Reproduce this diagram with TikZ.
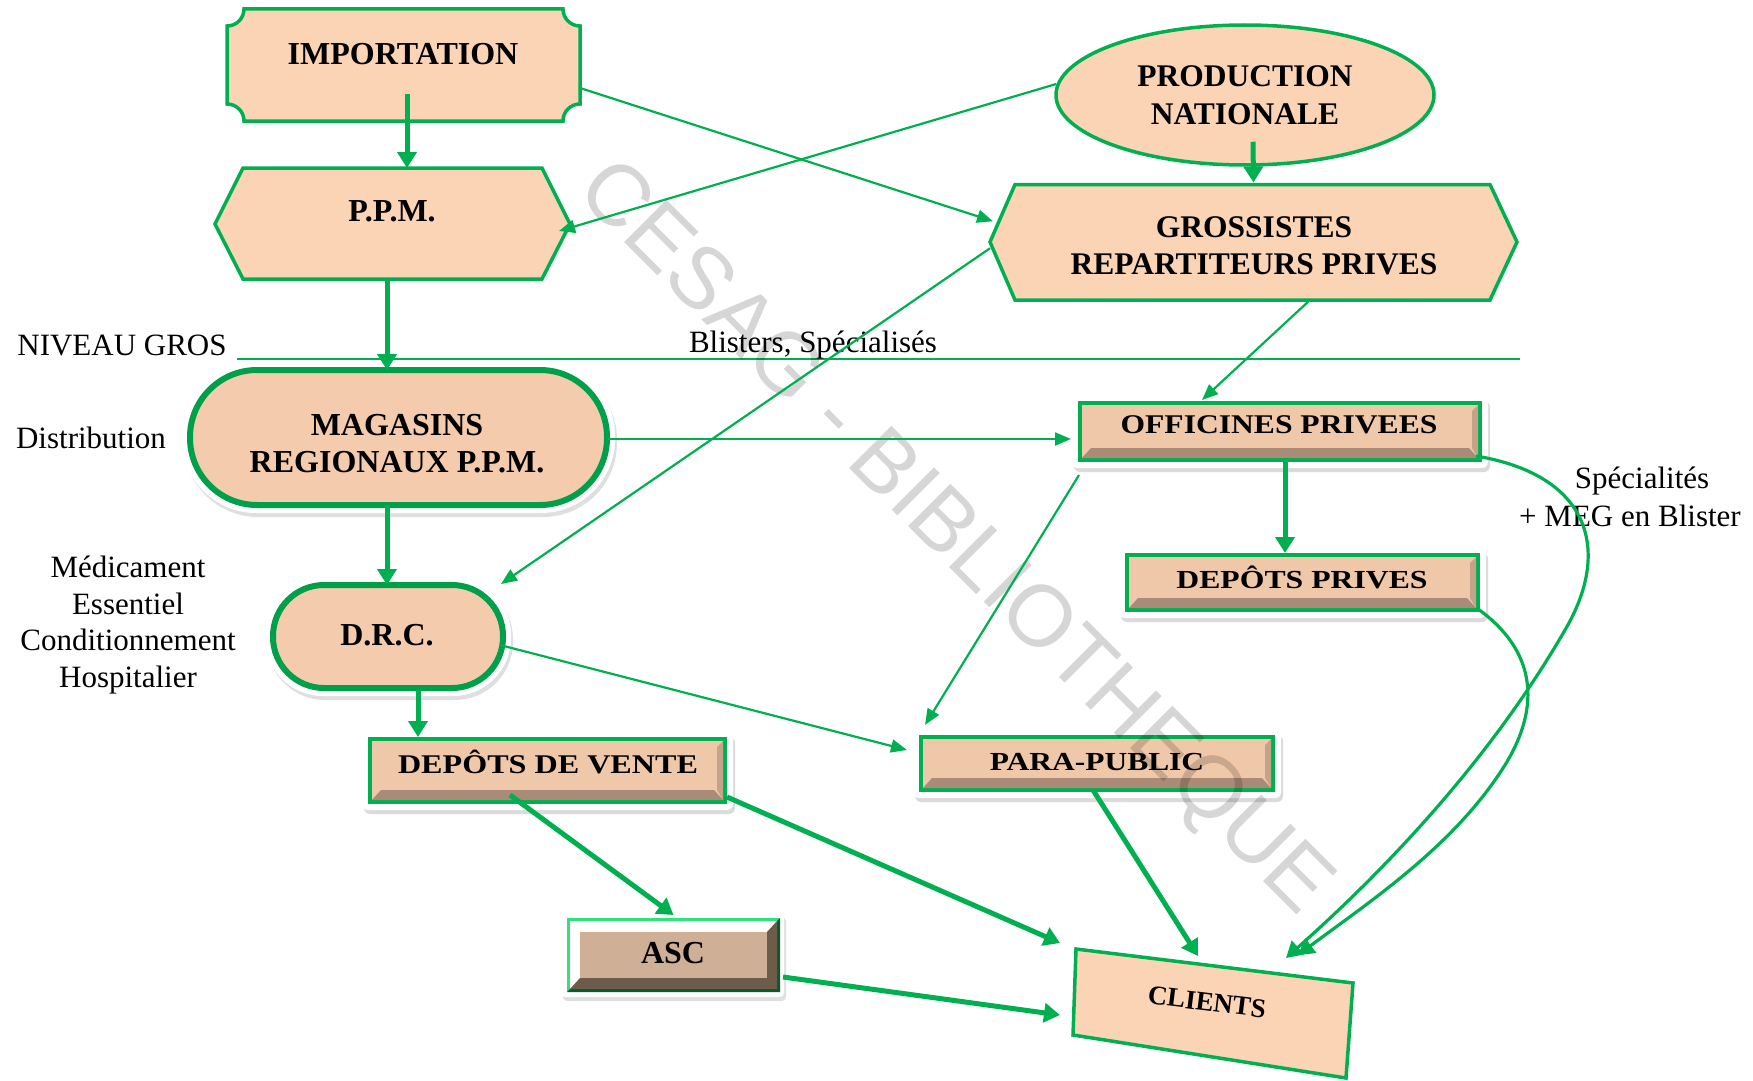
\documentclass[tikz,border=0pt]{standalone}
\usepackage{fontspec}
\usepackage{graphicx}
\setmainfont{Liberation Serif}
\newfontfamily\wmfont{Liberation Sans}
\usetikzlibrary{arrows.meta,shapes.geometric,shadows,calc}
\definecolor{grn}{HTML}{00B050}
\definecolor{grndark}{HTML}{00A04A}
\definecolor{peach}{HTML}{FAD4B5}
\definecolor{magfill}{HTML}{F4CBAC}
\definecolor{face}{HTML}{EFC7A9}
\definecolor{bevel}{HTML}{A98B77}
\definecolor{ascface}{HTML}{CFAF96}
\definecolor{ascdark}{HTML}{6E5C4B}
\definecolor{asclight}{HTML}{2EE37C}
\definecolor{ascgreen}{HTML}{0A5A2B}

% bevelled button: green frame from (#1,#2) to (#3,#4) on a white halo
\newcommand\bevelbox[4]{%
  \fill[white, rounded corners=6pt,
        drop shadow={opacity=.28, shadow xshift=2pt, shadow yshift=-4pt}]
    (#1-8,#2-6) rectangle (#3+8,#4+8);
  \draw[grn, line width=3.5pt, fill=face] (#1,#2) rectangle (#3,#4);
  \fill[bevel] (#1+2,#4-2) -- (#1+11,#4-12) -- (#3-11,#4-12) -- (#3-2,#4-2) -- cycle;
  \fill[bevel!60!face] (#3-2,#2+2) -- (#3-2,#4-2) -- (#3-8,#4-12) -- (#3-8,#2+8) -- cycle;
}

\begin{document}
\begin{tikzpicture}[x=1pt,y=-1pt,
  hold/.style={inner sep=0pt, outer sep=0pt, draw=none},
  big/.style={font=\bfseries\fontsize{32}{37}\selectfont, align=center, inner sep=0pt},
  btxt/.style={font=\bfseries\fontsize{27}{30}\selectfont, inner sep=0pt},
  note/.style={font=\fontsize{31}{36.7}\selectfont, align=center, inner sep=0pt},
  flow/.style={grn, line width=2.2pt, -{Triangle[length=16pt,width=13pt]}},
  heavy/.style={grn, line width=5pt, -{Triangle[length=16pt,width=19pt]}},
  curvy/.style={grn, line width=3.2pt, -{Triangle[length=16pt,width=18pt]}},
  pframe/.style={draw=grn, line width=3.5pt, fill=peach}]

\fill[white] (0,0) rectangle (1753,1081);
\useasboundingbox (0,0) rectangle (1753,1081);

% ---------- top level: importation, P.P.M., production, grossistes ----------
\path[pframe] (244,9) -- (563,9) .. controls (563,18.4) and (570.6,26) .. (580,26)
  -- (580,104) .. controls (570.6,104) and (563,111.6) .. (563,121)
  -- (244,121) .. controls (244,111.6) and (236.4,104) .. (227,104)
  -- (227,26) .. controls (236.4,26) and (244,18.4) .. (244,9) -- cycle;
\node[hold, minimum width=353pt, minimum height=112pt] (imp) at (403.5,65) {};
\node[big] (imp-t) at (403,54) {IMPORTATION};

\path[pframe] (215,224) -- (243,168) -- (542,168) -- (570,224) -- (542,279) -- (243,279) -- cycle;
\node[hold, minimum width=355pt, minimum height=111pt] (ppm) at (392.5,223.5) {};
\node[big] (ppm-t) at (392,211) {P.P.M.};

\node[ellipse, pframe, big, font=\bfseries\fontsize{31.5}{38}\selectfont,
      minimum width=378pt, minimum height=140pt] (prod) at (1245,95)
  {PRODUCTION\\NATIONALE};

\path[pframe] (990,242) -- (1015,184.5) -- (1490,184.5) -- (1517,242) -- (1490,300) -- (1015,300) -- cycle;
\node[hold, minimum width=527pt, minimum height=115.5pt] (gro) at (1253.5,242.25) {};
\node[big, font=\bfseries\fontsize{31.5}{37}\selectfont] (gro-t) at (1254,246)
  {GROSSISTES\\REPARTITEURS PRIVES};

% ---------- public chain ----------
\fill[white, rounded corners=74pt, drop shadow={opacity=.25, shadow xshift=2pt, shadow yshift=-4pt}]
  (182,362) rectangle (615,513);
\draw[grndark, line width=6pt, fill=magfill, rounded corners=67pt] (190,370) rectangle (607,505);
\node[hold, minimum width=417pt, minimum height=135pt] (mag) at (398.5,437.5) {};
\node[big] (mag-t) at (397,444) {MAGASINS\\REGIONAUX P.P.M.};

\fill[white, rounded corners=58pt, drop shadow={opacity=.25, shadow xshift=2pt, shadow yshift=-4pt}]
  (265,577) rectangle (511,696);
\draw[grndark, line width=6pt, fill=magfill, rounded corners=51pt] (273,585) rectangle (503,688);
\node[hold, minimum width=230pt, minimum height=103pt] (drc) at (388,636.5) {};
\node[big] (drc-t) at (387,635) {D.R.C.};

\bevelbox{370}{739}{725}{802}
\node[hold, minimum width=355pt, minimum height=63pt] (dv) at (547.5,770.5) {};
\node[btxt] (dv-t) at (548,762) {\scalebox{1.19}[1]{DEPÔTS DE VENTE}};

% ASC button
\fill[white, rounded corners=4pt, drop shadow={opacity=.25, shadow xshift=2pt, shadow yshift=-4pt}]
  (561,913) rectangle (784,997);
\fill[asclight] (567,918) rectangle (780,992);
\fill[ascgreen] (780,918) -- (780,992) -- (567,992) -- (571,988) -- (776,988) -- (776,922) -- cycle;
\fill[white] (570,921) rectangle (777,989);
\fill[ascdark] (777,921) -- (777,989) -- (570,989) -- (580,978) -- (767,978) -- (767,932) -- cycle;
\fill[ascface] (580,932) rectangle (767,978);
\node[hold, minimum width=213pt, minimum height=74pt] (asc) at (673.5,955) {};
\node[big, font=\bfseries\fontsize{32}{36}\selectfont] (asc-t) at (673,953) {ASC};

% ---------- private chain ----------
\bevelbox{1080}{403}{1480}{460}
\node[hold, minimum width=400pt, minimum height=57pt] (off) at (1280,431.5) {};
\node[btxt] (off-t) at (1279,425) {\scalebox{1.17}[1]{OFFICINES PRIVEES}};

\bevelbox{1127}{555}{1478}{610}
\node[hold, minimum width=351pt, minimum height=55pt] (dp) at (1302.5,582.5) {};
\node[btxt, font=\bfseries\fontsize{26}{30}\selectfont] (dp-t) at (1302,577) {\scalebox{1.22}[1]{DEPÔTS PRIVES}};

\bevelbox{921}{737}{1273}{790}
\node[hold, minimum width=352pt, minimum height=53pt] (pp) at (1097,763.5) {};
\node[btxt, font=\bfseries\fontsize{26}{30}\selectfont] (pp-t) at (1097,762) {\scalebox{1.21}[1]{PARA-PUBLIC}};

% clients
\path[pframe] (1076,949) -- (1353,983) -- (1346,1078) -- (1073,1035) -- cycle;
\node[btxt, rotate=-7] (cli) at (1207,1002) {CLIENTS};

% ---------- side notes ----------
\draw[grn, line width=2.2pt] (237,359) -- (1520,359);
\node[note] (niv) at (122,345) {NIVEAU GROS};
\node[note] (bli) at (813,345) {Blisters, Spécialisés};
\node[note] (dis) at (91,438) {Distribution};
\node[note] (med) at (128,625) {Médicament\\Essentiel\\Conditionnement\\Hospitalier};
\node[note] (spe1) at (1642,481) {Spécialités};
\node[note] (spe2) at (1630,516) {+ MEG en Blister};

% ---------- watermark ----------
\node[font=\wmfont\fontsize{87}{87}\selectfont, text=black, text opacity=0.16, rotate=-45, inner sep=0pt]
  (wm) at (953,540) {CESAG - BIBLIOTHEQUE};

% ---------- flows ----------
\draw[heavy] ($(imp.center)+(3.5,29)$) -- ($(ppm.north)+(14.5,0)$);
\draw[heavy] ($(ppm.south)+(-5.5,0)$) -- ($(mag.north)+(-11.5,0)$);
\draw[heavy] ($(mag.south)+(-11.5,0)$) -- ($(drc.north)+(-1,0)$);
\draw[heavy] ($(drc.south)+(30,2)$) -- ($(dv.north)+(-129.5,-2)$);
\draw[heavy] ($(dv.south)+(-37.5,-7)$) -- ($(asc.north)+(0,-3)$);
\draw[heavy] ($(dv.south east)+(2,-5)$) -- ($(cli)+(-147,-59)$);
\draw[heavy] ($(asc.east)+(3,22)$) -- ($(cli)+(-147,13)$);
\draw[heavy] ($(pp.south)+(-4,0)$) -- ($(cli)+(-9,-46)$);
\draw[heavy] ($(off.south)+(5,-2)$) -- ($(dp.north)+(-17.5,-2)$);
\draw[heavy] ($(prod.south)+(8,-25)$) -- ($(gro.north)+(0,-2)$);

\draw[flow] ($(imp.east)+(0,23)$) -- ($(gro.west)+(3,-21)$);
\draw[flow] ($(prod.west)+(2,-11)$) -- ($(ppm.east)+(-11,7.5)$);
\draw[flow] ($(gro.west)+(0,6)$) -- ($(drc.north east)+(-2,-1)$);
\draw[flow] ($(gro.south)+(56.5,0)$) -- ($(off.north)+(-78,-3)$);
\draw[flow] ($(mag.east)+(2,1.5)$) -- ($(off.west)+(-9,7.5)$);
\draw[flow] ($(off.south west)+(-1,15)$) -- ($(pp.north west)+(4,-12)$);
\draw[flow] ($(drc.east)+(-3,8.5)$) -- ($(pp.west)+(-14,-13.5)$);

\draw[curvy] ($(off.south east)+(-4,-4)$) .. controls (1590,475) and (1612,550) .. (1565,630)
  .. controls (1490,760) and (1385,870) .. ($(cli)+(79,-44)$);
\draw[curvy] ($(dp.south east)+(0,-1)$) .. controls (1535,650) and (1542,705) .. (1505,765)
  .. controls (1455,845) and (1372,900) .. ($(cli)+(91,-47)$);
\end{tikzpicture}
\end{document}
